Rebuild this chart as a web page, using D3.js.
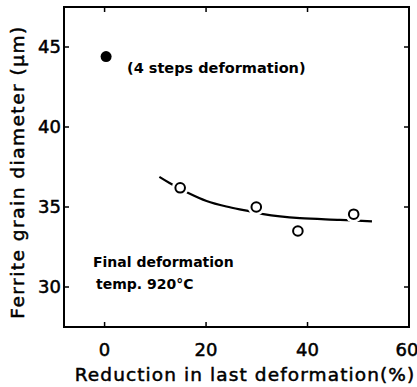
<!DOCTYPE html>
<html><head><meta charset="utf-8">
<script src="https://cdn.jsdelivr.net/npm/d3@7"></script>
<style>body{margin:0;background:#fff}svg{display:block}</style>
</head><body>
<svg id="c" width="417" height="387"></svg>
<script>
// Data
const fourStepX = [0];
const fourStepY = [44.4];
const reductionX = [14.9, 29.9, 38.1, 49.1];
const grainY = [36.2, 35.0, 33.5, 34.55];
const curveX = [10.8, 12.8, 16.5, 20.1, 24, 28, 31.3, 38.5, 46.4, 52.7];
const curveY = [36.88, 36.5, 35.88, 35.38, 35.03, 34.77, 34.55, 34.3, 34.2, 34.1];
const xTicks = [0, 20, 40, 60];
const yTicks = [30, 35, 40, 45];

const svg = d3.select("#c");
const L = 64, R = 409, T = 7, B = 327;
const x = d3.scaleLinear().domain([-8, 60]).range([L, R]);
const y = d3.scaleLinear().domain([27.5, 47.5]).range([B, T]);
const font = "'DejaVu Sans', sans-serif";

// frame
svg.append("rect").attr("x", L).attr("y", T).attr("width", R - L).attr("height", B - T)
  .attr("fill", "none").attr("stroke", "#000").attr("stroke-width", 2);

// ticks (inward)
const tk = 5;
xTicks.forEach(v => {
  svg.append("line").attr("x1", x(v)).attr("x2", x(v)).attr("y1", B).attr("y2", B - tk).attr("stroke", "#000").attr("stroke-width", 1.5);
  svg.append("line").attr("x1", x(v)).attr("x2", x(v)).attr("y1", T).attr("y2", T + tk).attr("stroke", "#000").attr("stroke-width", 1.5);
  svg.append("text").attr("x", x(v) - (v === 60 ? 2 : 0)).attr("y", 356).attr("text-anchor", "middle")
    .attr("font-family", font).attr("font-size", 18).attr("stroke", "#000").attr("stroke-width", 0.5).text(v);
});
yTicks.forEach(v => {
  svg.append("line").attr("x1", L).attr("x2", L + tk).attr("y1", y(v)).attr("y2", y(v)).attr("stroke", "#000").attr("stroke-width", 1.5);
  svg.append("line").attr("x1", R).attr("x2", R - tk).attr("y1", y(v)).attr("y2", y(v)).attr("stroke", "#000").attr("stroke-width", 1.5);
  svg.append("text").attr("x", 61).attr("y", y(v)).attr("dy", "0.36em").attr("text-anchor", "end")
    .attr("font-family", font).attr("font-size", 18).attr("stroke", "#000").attr("stroke-width", 0.5).text(v);
});

// curve
const line = d3.line().x((d, i) => x(curveX[i])).y((d, i) => y(curveY[i])).curve(d3.curveCatmullRom);
svg.append("path").datum(curveX).attr("d", line).attr("fill", "none").attr("stroke", "#000").attr("stroke-width", 2.2);

// halos to create gaps
svg.selectAll(".halo").data(reductionX).enter().append("circle")
  .attr("cx", (d) => x(d)).attr("cy", (d, i) => y(grainY[i])).attr("r", 8.5).attr("fill", "#fff");
svg.selectAll(".open").data(reductionX).enter().append("circle")
  .attr("cx", (d) => x(d)).attr("cy", (d, i) => y(grainY[i])).attr("r", 4.8)
  .attr("fill", "#fff").attr("stroke", "#000").attr("stroke-width", 2);

svg.selectAll(".filled").data(fourStepX).enter().append("circle")
  .attr("cx", d => x(d) + 1.5).attr("cy", (d, i) => y(fourStepY[i])).attr("r", 5.5).attr("fill", "#000");

// annotations
svg.append("text").attr("x", 127).attr("y", 73).attr("font-family", font).attr("font-weight", "bold")
  .attr("font-size", 14.5).text("(4 steps deformation)");
svg.append("text").attr("x", 93).attr("y", 267).attr("font-family", font).attr("font-weight", "bold")
  .attr("font-size", 14).text("Final deformation");
svg.append("text").attr("x", 96).attr("y", 289).attr("font-family", font).attr("font-weight", "bold")
  .attr("font-size", 14).text("temp. 920°C");

// axis titles
svg.append("text").attr("x", 245).attr("y", 381).attr("text-anchor", "middle").attr("font-family", font)
  .attr("font-size", 18.5).attr("letter-spacing", 1.1).attr("stroke", "#000").attr("stroke-width", 0.5)
  .text("Reduction in last deformation(%)");
svg.append("text").attr("transform", "translate(24,172) rotate(-90)").attr("text-anchor", "middle")
  .attr("font-family", font).attr("font-size", 18.5).attr("letter-spacing", 1.5).attr("stroke", "#000").attr("stroke-width", 0.5)
  .text("Ferrite grain diameter (μm)");
</script>
</body></html>
